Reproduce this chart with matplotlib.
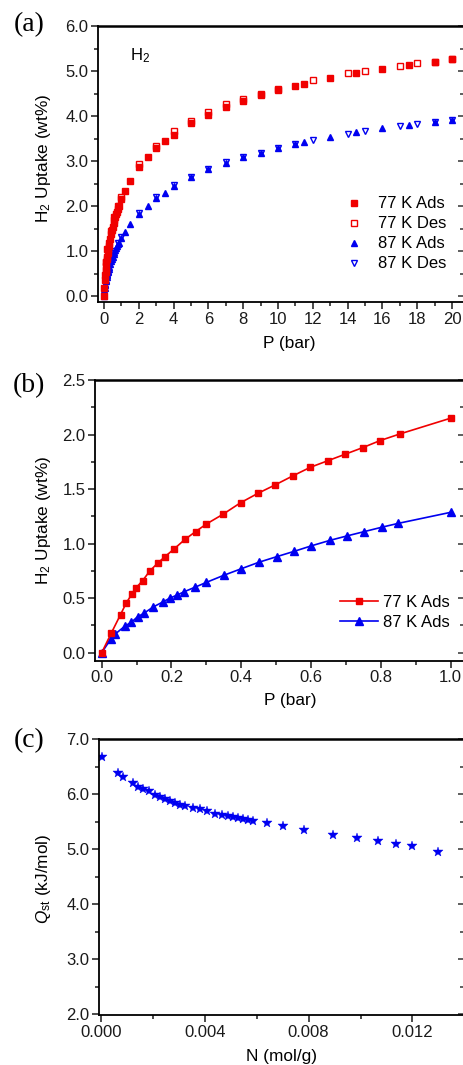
import matplotlib
matplotlib.use('Agg')
import matplotlib.pyplot as plt
from matplotlib.ticker import MultipleLocator, FormatStrFormatter

plt.rcParams.update({
    'font.family': ['Liberation Sans', 'DejaVu Sans'],
    'mathtext.fontset': 'custom',
    'mathtext.rm': 'Liberation Sans',
    'mathtext.it': 'Liberation Sans:italic',
    'mathtext.bf': 'Liberation Sans:bold',
    'axes.linewidth': 1.3,
})

RED = '#f00000'
BLUE = '#0000f0'

# ---------------- data: panel (b), low pressure adsorption ----------------
p_low_77 = [0.0, 0.027, 0.054, 0.071, 0.087, 0.097, 0.117, 0.138, 0.160, 0.181,
            0.207, 0.239, 0.269, 0.300, 0.348, 0.398, 0.447, 0.498, 0.547, 0.598,
            0.648, 0.698, 0.748, 0.798, 0.855, 1.0]
up_low_77 = [0.0, 0.177, 0.35, 0.46, 0.54, 0.59, 0.66, 0.75, 0.82, 0.88,
             0.95, 1.04, 1.11, 1.18, 1.27, 1.375, 1.46, 1.54, 1.62, 1.70,
             1.76, 1.82, 1.88, 1.945, 2.006, 2.15]
p_low_87 = [0.0, 0.027, 0.038, 0.067, 0.085, 0.103, 0.120, 0.148, 0.175, 0.195,
            0.217, 0.237, 0.267, 0.300, 0.350, 0.400, 0.451, 0.501, 0.552, 0.601,
            0.654, 0.702, 0.752, 0.802, 0.850, 1.0]
up_low_87 = [0.0, 0.13, 0.17, 0.245, 0.28, 0.33, 0.36, 0.42, 0.465, 0.50,
             0.53, 0.56, 0.60, 0.645, 0.71, 0.77, 0.83, 0.88, 0.93, 0.98,
             1.03, 1.07, 1.11, 1.15, 1.186, 1.287]

# ---------------- data: panel (a), high pressure ----------------
p_hp_ads = [1.2, 1.5, 2, 2.5, 3, 3.5, 4, 5, 6, 7, 8, 9, 10, 11, 11.5, 13, 14.5,
            16, 17.5, 19, 20]
up_hp_ads77 = [2.33, 2.55, 2.87, 3.09, 3.29, 3.44, 3.58, 3.84, 4.02, 4.19, 4.33,
               4.46, 4.58, 4.67, 4.71, 4.84, 4.95, 5.04, 5.13, 5.21, 5.26]
up_hp_ads87 = [1.42, 1.60, 1.83, 2.00, 2.19, 2.30, 2.44, 2.65, 2.82, 2.96, 3.08,
               3.19, 3.29, 3.38, 3.43, 3.54, 3.64, 3.73, 3.80, 3.87, 3.92]

p_des77 = [20, 19, 18, 17, 15, 14, 12, 10, 9, 8, 7, 6, 5, 4, 3, 2, 1, 0.8, 0.6,
           0.4, 0.2, 0.1]
up_des77 = [5.26, 5.21, 5.17, 5.12, 5.01, 4.95, 4.80, 4.61, 4.50, 4.38, 4.26,
            4.10, 3.89, 3.66, 3.34, 2.93, 2.20, 2.00, 1.75, 1.45, 1.05, 0.75]
p_des87 = [20, 19, 18, 17, 15, 14, 12, 11, 10, 9, 8, 7, 6, 5, 4, 3, 2, 1, 0.8,
           0.6, 0.4, 0.2, 0.1]
up_des87 = [3.92, 3.87, 3.82, 3.78, 3.67, 3.60, 3.46, 3.38, 3.29, 3.19, 3.09,
            2.97, 2.83, 2.65, 2.46, 2.20, 1.85, 1.31, 1.17, 1.00, 0.78, 0.50, 0.33]

# ---------------- data: panel (c), isosteric heat ----------------
n_qst = [0.00004, 0.00068, 0.00087, 0.00126, 0.00145, 0.00164, 0.00184, 0.00209,
         0.00228, 0.00248, 0.00267, 0.00286, 0.00305, 0.00325, 0.00354, 0.00382,
         0.00411, 0.00440, 0.00466, 0.00491, 0.00511, 0.00530, 0.00549, 0.00568,
         0.00588, 0.00639, 0.00703, 0.00783, 0.00896, 0.00988, 0.01067, 0.01137,
         0.01199, 0.01300]
qst = [6.67, 6.38, 6.32, 6.20, 6.14, 6.10, 6.06, 5.99, 5.95, 5.91, 5.87, 5.84,
       5.81, 5.79, 5.76, 5.73, 5.70, 5.65, 5.63, 5.61, 5.58, 5.57, 5.55, 5.53,
       5.52, 5.47, 5.42, 5.35, 5.27, 5.21, 5.15, 5.10, 5.06, 4.96]

fig = plt.figure(figsize=(4.63, 10.65), dpi=100)
W, H = 463.0, 1065.0


def add_ax(left, top, right, bottom):
    return fig.add_axes([left / W, 1 - bottom / H, (right - left) / W, (bottom - top) / H])


def style(ax, xmaj, xmin, ymaj, ymin, xfmt, yfmt):
    ax.xaxis.set_major_locator(MultipleLocator(xmaj))
    ax.xaxis.set_minor_locator(MultipleLocator(xmin))
    ax.yaxis.set_major_locator(MultipleLocator(ymaj))
    ax.yaxis.set_minor_locator(MultipleLocator(ymin))
    ax.xaxis.set_major_formatter(FormatStrFormatter(xfmt))
    ax.yaxis.set_major_formatter(FormatStrFormatter(yfmt))
    ax.tick_params(which='both', direction='out', top=False, right=False,
                   labelsize=12, width=1.1, colors='#1a1a1a', pad=2)
    ax.tick_params(which='major', length=5)
    ax.tick_params(which='minor', length=3)
    ax.spines['top'].set_linewidth(1.8)
    sec = ax.secondary_yaxis('right')
    sec.yaxis.set_major_locator(MultipleLocator(ymaj))
    sec.yaxis.set_minor_locator(MultipleLocator(ymin))
    sec.tick_params(which='both', direction='in', labelright=False, width=1.1,
                    colors='#333333')
    sec.tick_params(which='major', length=6)
    sec.tick_params(which='minor', length=4)


# ---------------- panel (a) ----------------
axa = add_ax(98, 26, 466, 302)
axa.set_xlim(-0.345, 20.8)
axa.set_ylim(-0.13, 6.0)
style(axa, 2, 1, 1.0, 0.5, '%d', '%.1f')

p_ads77 = p_low_77 + p_hp_ads
u_ads77 = up_low_77 + up_hp_ads77
p_ads87 = p_low_87 + p_hp_ads
u_ads87 = up_low_87 + up_hp_ads87

axa.plot(p_des87, up_des87, linestyle='none', marker='v', ms=5.0, mfc='white',
         mec=BLUE, mew=1.0, label='87 K Des', zorder=3)
axa.plot(p_ads87, u_ads87, linestyle='none', marker='^', ms=5.0, color=BLUE,
         label='87 K Ads', zorder=4)
axa.plot(p_des77, up_des77, linestyle='none', marker='s', ms=4.5, mfc='white',
         mec=RED, mew=1.0, label='77 K Des', zorder=3)
axa.plot(p_ads77, u_ads77, linestyle='none', marker='s', ms=4.3, color=RED,
         label='77 K Ads', zorder=4)

h, l = axa.get_legend_handles_labels()
order = [3, 2, 1, 0]
axa.legend([h[i] for i in order], [l[i] for i in order], loc='center left',
           bbox_to_anchor=((346 - 98) / 368, (302 - 234) / 276), frameon=False,
           fontsize=12, handlelength=1.0, handletextpad=0.9, labelspacing=0.3,
           borderpad=0, borderaxespad=0)
axa.text((130 - 98) / 368, (302 - 56) / 276, r'H$_2$', transform=axa.transAxes,
         fontsize=12, ha='left', va='center')
axa.set_xlabel('P (bar)', fontsize=12.4)
axa.xaxis.set_label_coords((289 - 98) / 368, (302 - 344) / 276)
axa.xaxis.label.set_va('center')
axa.set_ylabel(r'H$_2$ Uptake (wt%)', fontsize=12.4)
axa.yaxis.set_label_coords((43.5 - 98) / 368, (302 - 158) / 276)
axa.yaxis.label.set_va('center')

# ---------------- panel (b) ----------------
axb = add_ax(95, 380, 466, 660.7)
axb.set_xlim(-0.0192, 1.044)
axb.set_ylim(-0.073, 2.5)
style(axb, 0.2, 0.1, 0.5, 0.25, '%.1f', '%.1f')
axb.plot(p_low_77, up_low_77, '-', color=RED, lw=1.2, marker='s', ms=5.0,
         label='77 K Ads', zorder=4)
axb.plot(p_low_87, up_low_87, '-', color=BLUE, lw=1.2, marker='^', ms=5.6,
         label='87 K Ads', zorder=3)
axb.legend(loc='center left', bbox_to_anchor=((340 - 95) / 371, (660.7 - 612.5) / 280.7),
           frameon=False, fontsize=12, handlelength=2.3, handletextpad=0.3,
           labelspacing=0.3, borderpad=0, borderaxespad=0)
axb.set_xlabel('P (bar)', fontsize=12.4)
axb.xaxis.set_label_coords((290 - 95) / 371, (660.7 - 700) / 280.7)
axb.xaxis.label.set_va('center')
axb.set_ylabel(r'H$_2$ Uptake (wt%)', fontsize=12.4)
axb.yaxis.set_label_coords((43.5 - 95) / 371, (660.7 - 520) / 280.7)
axb.yaxis.label.set_va('center')

# ---------------- panel (c) ----------------
axc = add_ax(99, 739.3, 466, 1015)
axc.set_xlim(-0.0000654, 0.01406)
axc.set_ylim(1.99, 7.0)
style(axc, 0.004, 0.002, 1.0, 0.5, '%.3f', '%.1f')
axc.plot(n_qst, qst, linestyle='none', marker='*', ms=7.5, color=BLUE, mew=0.3)
axc.set_xlabel('N (mol/g)', fontsize=12.4)
axc.xaxis.set_label_coords((282 - 99) / 367, (1015 - 1057) / 275.7)
axc.xaxis.label.set_va('center')
axc.set_ylabel(r'$Q_{\rm st}$ (kJ/mol)', fontsize=12.4)
axc.yaxis.set_label_coords((43.5 - 99) / 367, (1015 - 879) / 275.7)
axc.yaxis.label.set_va('center')

# panel letters
for lab, yc in [('(a)', 25), ('(b)', 386), ('(c)', 741)]:
    fig.text(29 / W, 1 - yc / H, lab, family=['Liberation Serif', 'DejaVu Serif'],
             fontsize=20, ha='center', va='center')

fig.savefig('out.png', dpi=100)
